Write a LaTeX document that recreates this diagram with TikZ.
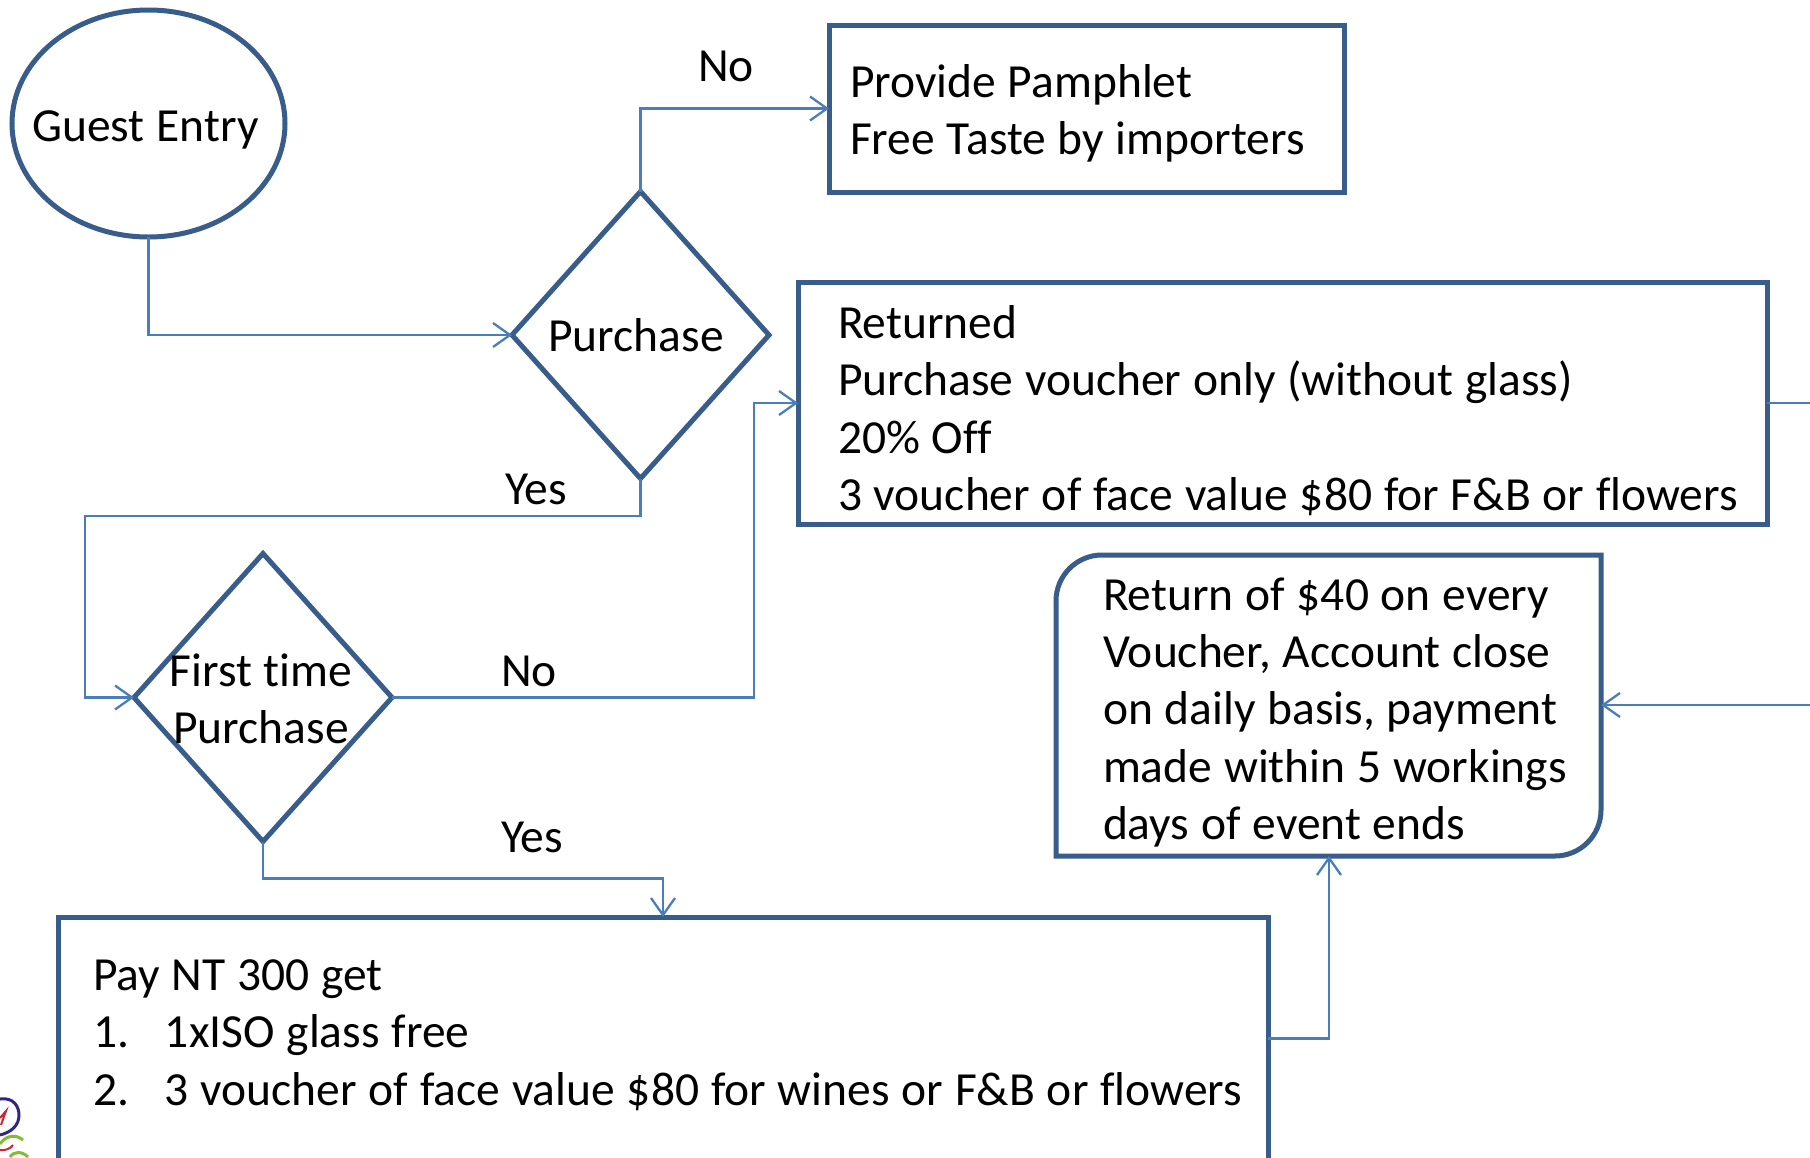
\documentclass[tikz,border=0pt]{standalone}
\usepackage{fontspec}
\setmainfont[WordSpace=1.1,Ligatures=NoCommon]{Carlito}
\usetikzlibrary{arrows.meta,shapes.geometric}
\definecolor{edge}{HTML}{385D8A}
\definecolor{link}{HTML}{4A7EBB}
\newcommand{\txt}{\fontsize{47.5}{57.3}\selectfont}
\tikzset{
  x=1pt,y=-1pt,
  shapeline/.style={draw=edge,line width=5pt,fill=white,inner sep=0pt,outer sep=0pt},
  boxnode/.style={shapeline,rectangle,anchor=north west},
  conn/.style={draw=link,line width=2.3pt,-{Straight Barb[length=17pt,width=24pt,line width=2.3pt]}},
  plainconn/.style={draw=link,line width=2.3pt},
  lab/.style={font=\txt,inner sep=0pt,outer sep=0pt,anchor=center,align=center},
  body/.style={font=\txt,inner sep=0pt,outer sep=0pt,anchor=west,align=left}
}
\begin{document}
\begin{tikzpicture}
\useasboundingbox (0,0) rectangle (1810,1157);
\fill[white] (0,0) rectangle (1810,1157);

\node[shapeline,ellipse,minimum width=273pt,minimum height=227pt] (guest) at (148.5,123.5) {};
\node[lab] (guesttxt) at (145.5,130) {Guest Entry};

\node[shapeline,diamond,minimum width=257pt,minimum height=287pt,aspect=0.895] (purchase) at (640.5,335) {};
\node[lab] (purchasetxt) at (636,335) {Purchase};

\node[shapeline,diamond,minimum width=258pt,minimum height=288pt,aspect=0.895] (first) at (263,697.5) {};
\node[lab] (firsttxt) at (261,698.5) {First time\\Purchase};

\node[boxnode,minimum width=515pt,minimum height=167pt] (pamphlet) at (829,25) {};
\node[body] (pamphlettxt) at (850,113) {Provide Pamphlet\\Free Taste by importers};

\node[boxnode,minimum width=969pt,minimum height=242pt] (returned) at (798,282) {};
\node[body] (returnedtxt) at (838,410.5)
  {Returned\\Purchase voucher only (without glass)\\20\% Off\\3 voucher of face value \$80 for F\&B or flowers};

\draw[draw=edge,line width=5pt,fill=white]
  (1056,601) .. controls (1056,575.6) and (1076.6,555) .. (1102,555) -- (1601,555) -- (1601,810)
  .. controls (1601,835.4) and (1580.4,856) .. (1555,856) -- (1056,856) -- cycle;
\node[body] (vouchertxt) at (1103,712.5)
  {Return of \$40 on every\\Voucher, Account close\\on daily basis, payment\\made within 5 workings\\days of event ends};
\coordinate (vright) at (1601,705);
\coordinate (vbot) at (1329,856);

\node[boxnode,minimum width=1210pt,minimum height=243pt] (pay) at (58,917) {};
\node[body] (paytxt) at (93,1035)
  {Pay NT 300 get\\\makebox[72pt][l]{1.}1xISO glass free\\\makebox[72pt][l]{2.}3 voucher of face value \$80 for wines or F\&B or flowers};

\coordinate (feedA) at (1810,403);
\coordinate (feedB) at (1810,705);

\draw[conn] (guest.south) |- (purchase.west);
\draw[conn] (purchase.north) |- (pamphlet.west);
\draw[conn] (purchase.south) -- ++(0,37.5) -| (85,697.5) -- (first.west);
\draw[conn] (first.east) -| (754,403) -- (returned.west |- feedA);
\draw[conn] (first.south) -- ++(0,37) -| (663,917);
\draw[conn] (pay.east) -| (vbot);
\draw[plainconn] (returned.east |- feedA) -- (feedA);
\draw[conn] (feedB) -- (vright);

\node[lab] (lno1) at (726,66) {No};
\node[lab] (lyes1) at (536,489) {Yes};
\node[lab] (lno2) at (529,671) {No};
\node[lab] (lyes2) at (532,837) {Yes};

% logo fragment
\draw[draw={rgb,255:red,49;green,39;blue,131},line width=3pt] (0,1099) .. controls (14,1097) and (19,1107) .. (19,1115) .. controls (19,1125) and (12,1132) .. (0,1135);
\draw[draw={rgb,255:red,200;green,40;blue,50},line width=2pt] (0,1118) -- (6,1111) -- (1,1125);
\draw[draw={rgb,255:red,200;green,40;blue,50},line width=2pt] (0,1150) .. controls (6,1151) and (11,1148) .. (13,1145);
\draw[draw={rgb,255:red,130;green,190;blue,50},line width=3pt] (0,1144) .. controls (6,1135) and (16,1134) .. (23,1140);
\draw[draw={rgb,255:red,130;green,190;blue,50},line width=3pt] (10,1157) .. controls (14,1151) and (22,1151) .. (28,1157);
\end{tikzpicture}
\end{document}
